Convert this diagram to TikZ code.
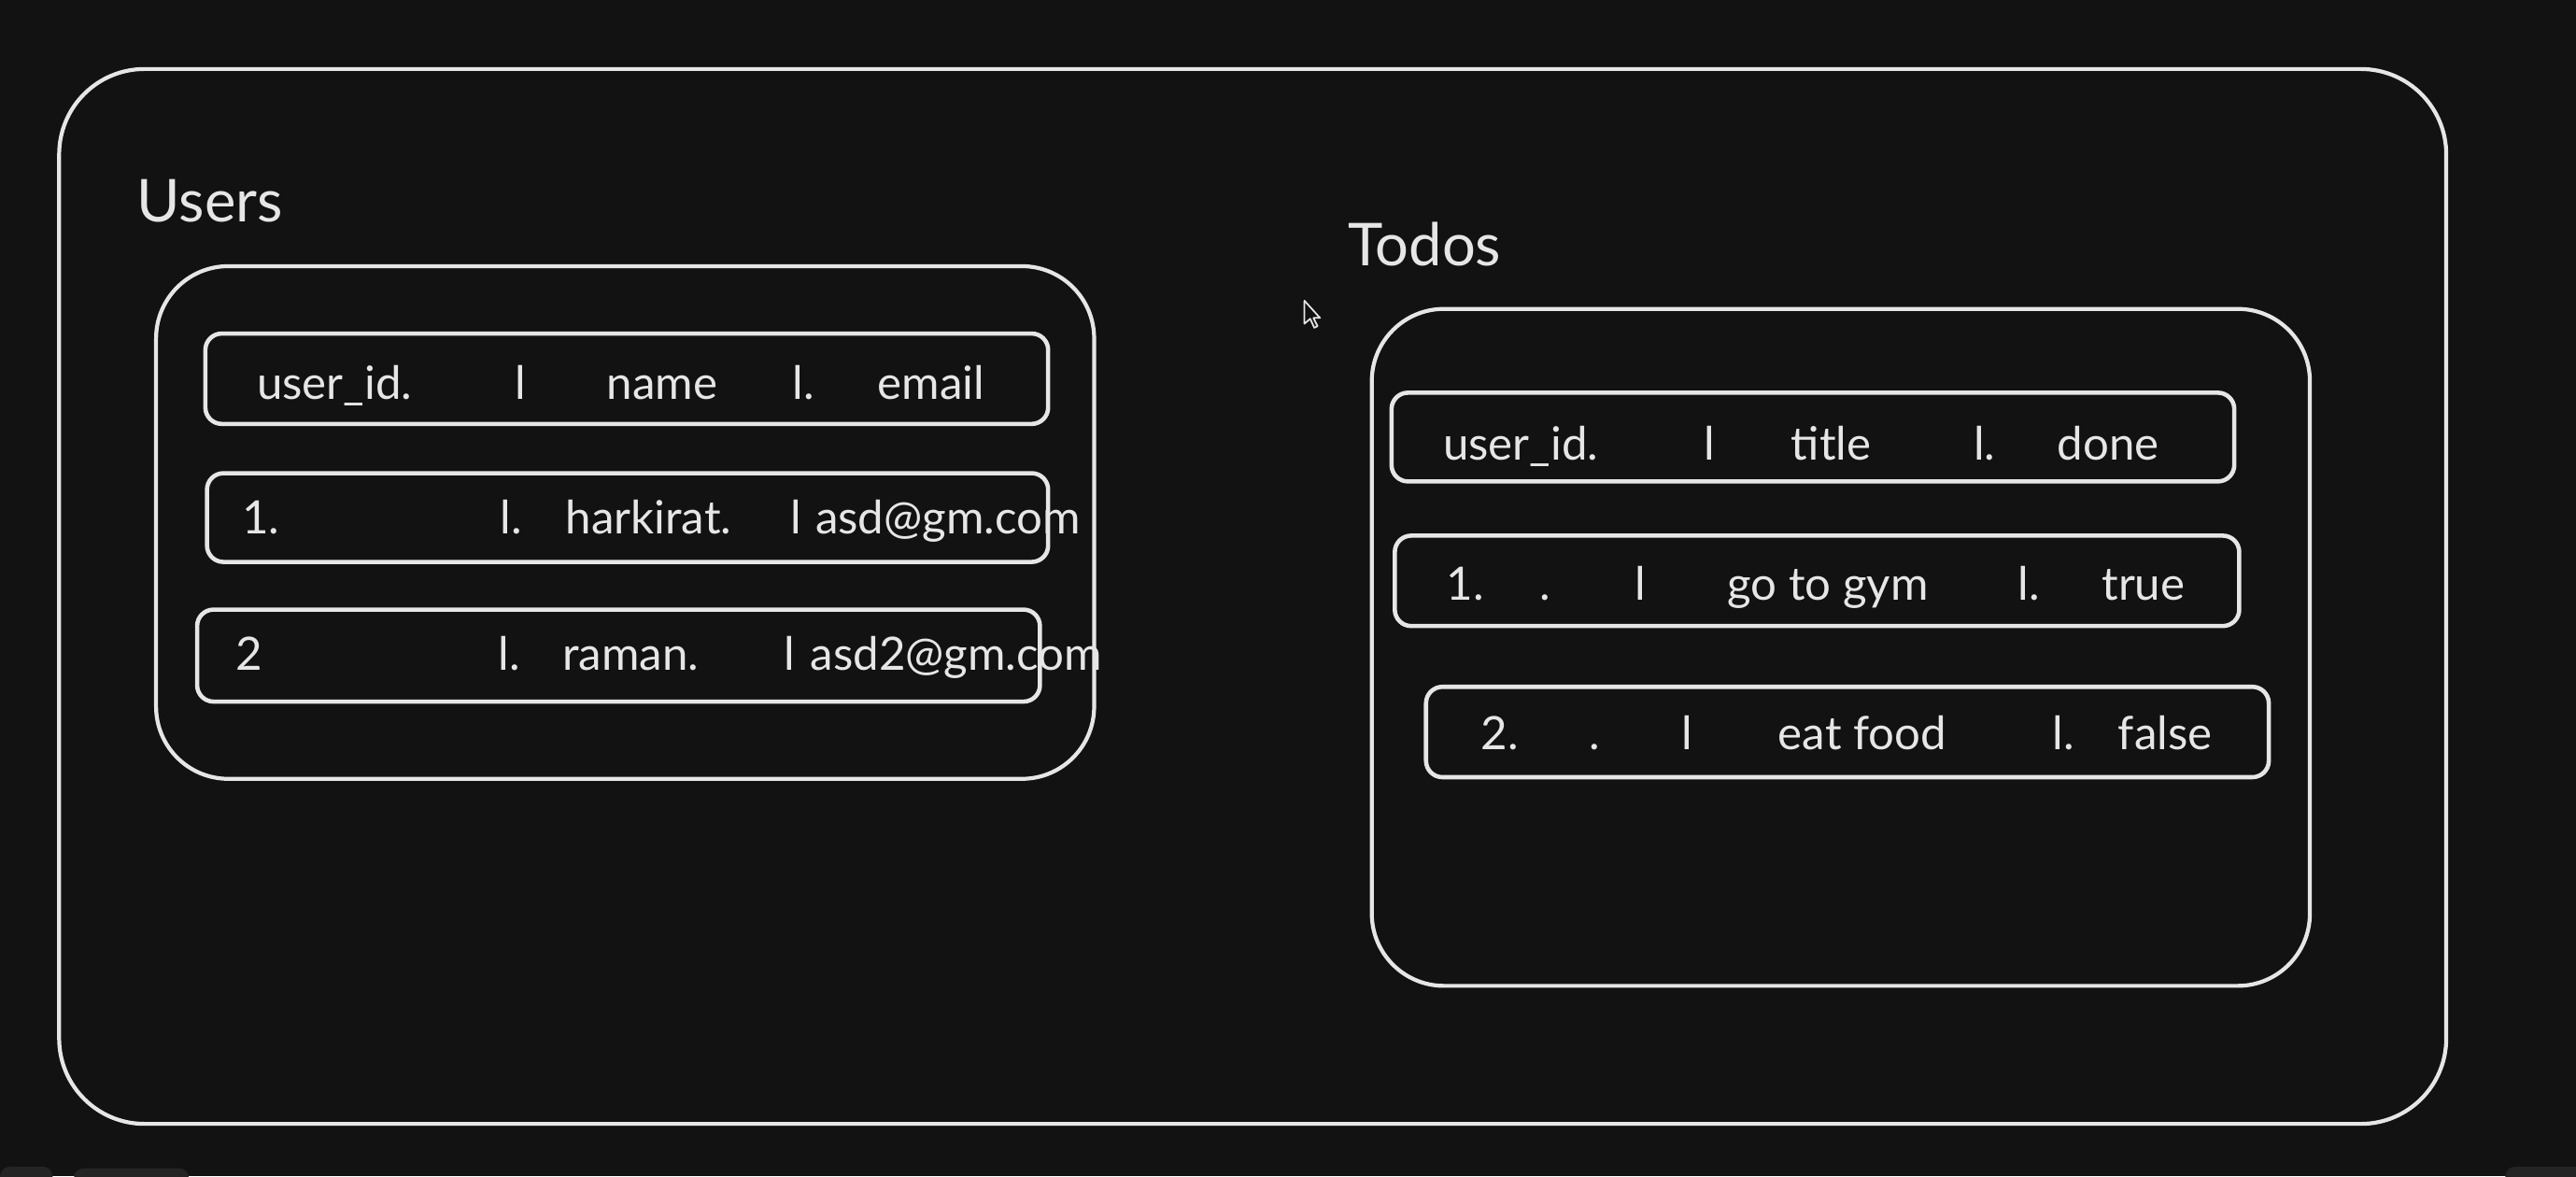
\documentclass[tikz,border=0pt]{standalone}
\usepackage{fontspec}
\setmainfont{Lato}
\usetikzlibrary{positioning}
\definecolor{board}{HTML}{121212}
\definecolor{chalk}{HTML}{E6E6E6}
\definecolor{uibar}{HTML}{242424}
\tikzset{
	outerbox/.style={draw=chalk,line width=1.2pt,rounded corners=26pt},
	tablebox/.style={draw=chalk,line width=1.2pt,rounded corners=22pt},
	rowbox/.style={draw=chalk,line width=1.3pt,rounded corners=5pt},
	title/.style={text=chalk,font=\fontsize{18}{20}\selectfont,anchor=base west,inner sep=0pt},
	cell/.style={text=chalk,font=\fontsize{14}{17}\selectfont,anchor=base west,inner sep=0pt}
}
\begin{document}
\begin{tikzpicture}[x=0.17589mm,y=-0.17589mm]
					    %frame
					    \useasboundingbox (0,0) rectangle (1568,716);
					    \fill[board] (0,0) rectangle (1568,716);
					    \begin{scope}
					    	\clip (0,0) rectangle (1568,716);
					    	\fill[uibar,rounded corners=3pt] (0,710) rectangle (32,724);
					    	\fill[uibar,rounded corners=3pt] (45,711) rectangle (115,724);
					    	\fill[uibar,rounded corners=3pt] (1525,710) rectangle (1580,724);
					    \end{scope}
					    \draw[outerbox] (36,42) rectangle (1489,684);
						% Users table
						\node[title] (users) at (83,135) {Users};
						\draw[tablebox] (95,162) rectangle (666,474);
						\draw[rowbox] (125,203) rectangle (638,258);
						\draw[rowbox] (126,288) rectangle (638,342);
						\draw[rowbox] (120,371) rectangle (633,427);
						% header row
						\node[cell] (uhid) at (156,243) {user\_id.};
						\node[cell] (uhsa) at (313,243) {l};
						\node[cell] (uhname) at (369,243) {name};
						\node[cell] (uhsb) at (482,243) {l.};
						\node[cell] (uhmail) at (534,243) {email};
						% first user
						\node[cell] (uaid) at (147,325) {1.};
						\node[cell] (uasa) at (304,325) {l.};
						\node[cell] (uaname) at (344,325) {harkirat.};
						\node[cell] (uasb) at (481,325) {l};
						\node[cell] (uamail) at (496,325) {asd@gm.com};
						% second user
						\node[cell] (ubid) at (143,408) {2};
						\node[cell] (ubsa) at (303,408) {l.};
						\node[cell] (ubname) at (342,408) {raman.};
						\node[cell] (ubsb) at (477,408) {l};
						\node[cell] (ubmail) at (493,408) {asd2@gm.com};
						% Todos table
						\node[title] (todos) at (820,162) {Todos};
						\draw[tablebox] (835,188) rectangle (1406,600);
						\draw[rowbox] (847,239) rectangle (1360,293);
						\draw[rowbox] (849,326) rectangle (1363,381);
						\draw[rowbox] (868,418) rectangle (1381,473);
						% header row
						\node[cell] (thid) at (878,280) {user\_id.};
						\node[cell] (thsa) at (1037,280) {l};
						\node[cell] (thtitle) at (1090,280) {title};
						\node[cell] (thsb) at (1201,280) {l.};
						\node[cell] (thdone) at (1252,280) {done};
						% first todo
						\node[cell] (taid) at (880,365) {1.};
						\node[cell] (tadot) at (937,365) {.};
						\node[cell] (tasa) at (995,365) {l};
						\node[cell] (tatitle) at (1051,365) {go to gym};
						\node[cell] (tasb) at (1228,365) {l.};
						\node[cell] (tadone) at (1279,365) {true};
						% second todo
						\node[cell] (tbid) at (901,456) {2.};
						\node[cell] (tbdot) at (967,456) {.};
						\node[cell] (tbsa) at (1023,456) {l};
						\node[cell] (tbtitle) at (1082,456) {eat food};
						\node[cell] (tbsb) at (1249,456) {l.};
						\node[cell] (tbdone) at (1289,456) {false};
						% mouse pointer
						\draw[chalk,fill=board,line width=0.5pt,line join=round] (794,183) -- (794,197) -- (797.5,194) -- (800,199.5) -- (802,198.5) -- (799.5,193.5) -- (803.5,193.5) -- cycle;
				    \end{tikzpicture}
\end{document}
